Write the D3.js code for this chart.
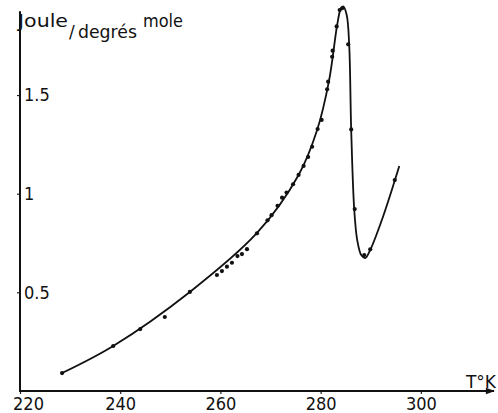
<!DOCTYPE html>
<html>
<head>
<meta charset="utf-8">
<script src="https://cdn.jsdelivr.net/npm/d3@7"></script>
<style>
  body { margin: 0; background: #fff; }
  svg { display: block; }
  .tick text { font-family: "DejaVu Sans Condensed", "DejaVu Sans", sans-serif; font-stretch: condensed; font-size: 18px; fill: #111; }
  .lbl { font-family: "DejaVu Sans", sans-serif; fill: #111; }
</style>
</head>
<body>
<svg id="chart" width="498" height="413"></svg>
<script>
// mesures (T en K, Cp en joule/degrés mole)
const tempPoints = [228.4, 238.6, 244.0, 248.9, 253.9, 259.3, 260.3, 261.3, 262.3, 263.4, 264.3, 265.3,
  267.3, 269.4, 270.2, 271.4, 272.3, 273.2, 274.5, 275.6, 276.6, 277.5, 278.3, 279.4, 280.2,
  281.3, 281.5, 282.3, 282.4, 283.2, 283.8, 284.3, 285.5, 286.1, 286.8, 288.7, 289.9, 294.8];
const cpPoints = [0.091, 0.228, 0.314, 0.375, 0.502, 0.588, 0.608, 0.630, 0.650, 0.684, 0.694, 0.719,
  0.799, 0.865, 0.891, 0.939, 0.980, 1.006, 1.048, 1.095, 1.141, 1.186, 1.238, 1.328, 1.374,
  1.529, 1.568, 1.694, 1.725, 1.848, 1.931, 1.940, 1.757, 1.326, 0.922, 0.689, 0.718, 1.069];

// courbe tracée à la main (noeuds)
const tempCurve = [228.4, 238.6, 253.9, 267.3, 275.6, 279.3, 281.7, 283.3, 284.0, 284.5, 285.2, 285.7,
  286.1, 286.7, 287.3, 288.1, 288.9, 289.9, 292.5, 295.7];
const cpCurve = [0.091, 0.228, 0.502, 0.801, 1.095, 1.323, 1.576, 1.855, 1.936, 1.949, 1.906, 1.754,
  1.323, 0.922, 0.765, 0.689, 0.674, 0.715, 0.887, 1.140];

const xTicks = [220, 240, 260, 280, 300];
const yTicks = [0.5, 1, 1.5];

const svg = d3.select("#chart");

const x = d3.scaleLinear().domain([220, 315]).range([20, 496]);
const y = d3.scaleLinear().domain([0, 2]).range([391, 391 - 2 * 197.3]);

// axe X
const gx = svg.append("g").attr("transform", `translate(0,${y(0)})`)
  .call(d3.axisBottom(x).tickValues(xTicks).tickSize(3).tickSizeOuter(0));
gx.select(".domain").remove();
gx.selectAll(".tick line").attr("stroke", "#222").attr("stroke-width", 1.2);
gx.selectAll(".tick text").attr("y", 19).attr("dy", 0).attr("dx", d => d === 220 ? 8 : 0);

svg.append("defs").append("marker")
  .attr("id", "arrow").attr("viewBox", "0 0 10 10").attr("refX", 9).attr("refY", 5)
  .attr("markerWidth", 7).attr("markerHeight", 5).attr("orient", "auto")
  .append("path").attr("d", "M0,1.5 L10,5 L0,8.5 Z").attr("fill", "#111");

svg.append("line")
  .attr("x1", x(220)).attr("x2", x(314.6)).attr("y1", y(0)).attr("y2", y(0))
  .attr("stroke", "#111").attr("stroke-width", 1.8).attr("marker-end", "url(#arrow)");

svg.append("text").attr("class", "lbl")
  .attr("x", 496).attr("y", 388).attr("text-anchor", "end").attr("font-size", 17)
  .text("T°K");

// axe Y
const gy = svg.append("g").attr("transform", `translate(${x(220)},0)`)
  .call(d3.axisRight(y).tickValues(yTicks).tickSize(-3).tickPadding(4).tickFormat(d3.format("")));
gy.select(".domain").remove();
gy.selectAll(".tick line").attr("stroke", "#222").attr("stroke-width", 1.2);

svg.append("line")
  .attr("x1", x(220)).attr("x2", x(220)).attr("y1", y(0) + 1).attr("y2", y(1.925))
  .attr("stroke", "#111").attr("stroke-width", 2);

// titre de l'axe Y
const title = svg.append("text").attr("class", "lbl").attr("font-size", 17);
title.append("tspan").attr("x", 18).attr("y", 27).attr("textLength", 50).attr("lengthAdjust", "spacingAndGlyphs").text("Joule");
title.append("tspan").attr("x", 69).attr("y", 38).text("/");
title.append("tspan").attr("x", 78).attr("y", 38).attr("textLength", 59).attr("lengthAdjust", "spacingAndGlyphs").text("degrés");
title.append("tspan").attr("x", 143).attr("y", 27).attr("textLength", 40).attr("lengthAdjust", "spacingAndGlyphs").text("mole");

// courbe
const curveData = tempCurve.map((t, i) => [t, cpCurve[i]]);
svg.append("path")
  .datum(curveData)
  .attr("fill", "none")
  .attr("stroke", "#111")
  .attr("stroke-width", 1.8)
  .attr("d", d3.line().x(d => x(d[0])).y(d => y(d[1])).curve(d3.curveCatmullRom.alpha(0.5)));

// points de mesure
const pts = tempPoints.map((t, i) => [t, cpPoints[i]]);
svg.selectAll(".dot").data(pts).enter().append("circle")
  .attr("class", "dot")
  .attr("cx", d => x(d[0])).attr("cy", d => y(d[1]))
  .attr("r", 2.1).attr("fill", "#111");
</script>
</body>
</html>
